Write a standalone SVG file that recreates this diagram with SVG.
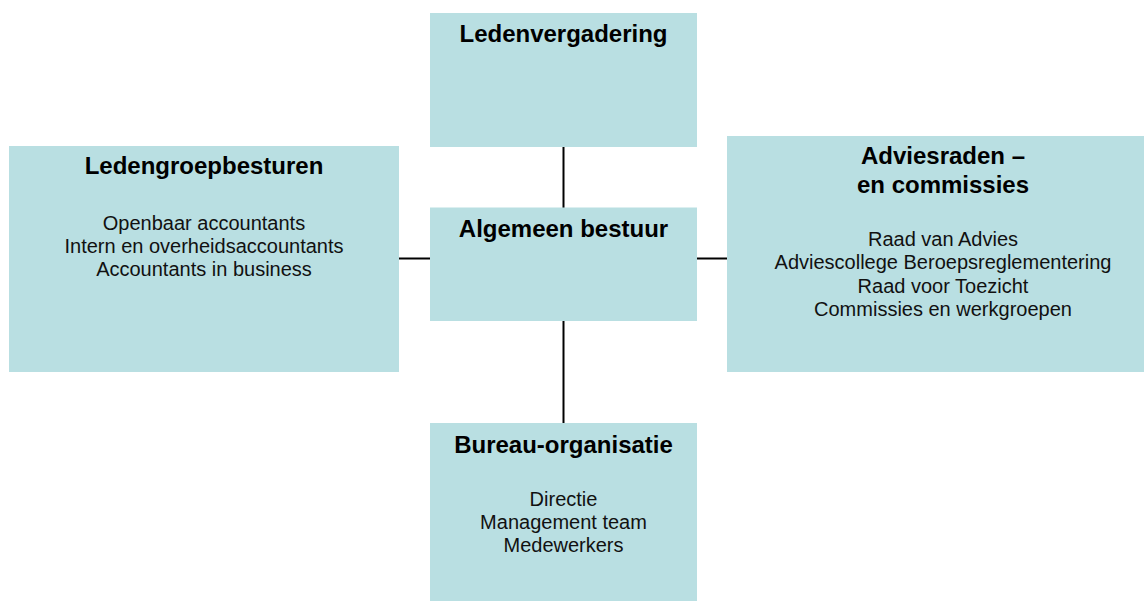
<svg xmlns="http://www.w3.org/2000/svg" width="1144" height="601" viewBox="0 0 1144 601">
<style>
.box{fill:#B9DFE2;}
.t{font-family:"Liberation Sans",Arial,sans-serif;font-weight:bold;font-size:24px;fill:#000;text-anchor:middle;}
.b{font-family:"Liberation Sans",Arial,sans-serif;font-size:20px;fill:#111;text-anchor:middle;}
.c{stroke:#000;stroke-width:2;fill:none;}
</style>
<rect width="1144" height="601" fill="#fff"/>
<g id="connectors">
<line class="c" x1="563.5" y1="147" x2="563.5" y2="208"/>
<line class="c" x1="563.5" y1="320" x2="563.5" y2="423"/>
<line class="c" x1="399" y1="258.5" x2="430" y2="258.5"/>
<line class="c" x1="697" y1="258.5" x2="727" y2="258.5"/>
</g>
<g id="ledenvergadering">
<rect class="box" x="430" y="13" width="267" height="134"/>
<text class="t" x="563.5" y="42">Ledenvergadering</text>
</g>
<g id="algemeen-bestuur">
<rect class="box" x="430" y="207.5" width="267" height="113.5"/>
<text class="t" x="563.5" y="237">Algemeen bestuur</text>
</g>
<g id="ledengroepbesturen">
<rect class="box" x="9" y="146" width="390" height="226"/>
<text class="t" x="204" y="174">Ledengroepbesturen</text>
<text class="b" x="204" y="229.5">Openbaar accountants</text>
<text class="b" x="204" y="252.5">Intern en overheidsaccountants</text>
<text class="b" x="204" y="275.5">Accountants in business</text>
</g>
<g id="adviesraden">
<rect class="box" x="727" y="136" width="417" height="236"/>
<text class="t" x="943" y="163.5">Adviesraden –</text>
<text class="t" x="943" y="192.5">en commissies</text>
<text class="b" x="943" y="246">Raad van Advies</text>
<text class="b" x="943" y="269.3">Adviescollege Beroepsreglementering</text>
<text class="b" x="943" y="292.6">Raad voor Toezicht</text>
<text class="b" x="943" y="315.9">Commissies en werkgroepen</text>
</g>
<g id="bureau-organisatie">
<rect class="box" x="430" y="423" width="267" height="178"/>
<text class="t" x="563.5" y="453">Bureau-organisatie</text>
<text class="b" x="563.5" y="506">Directie</text>
<text class="b" x="563.5" y="529">Management team</text>
<text class="b" x="563.5" y="552">Medewerkers</text>
</g>
</svg>
